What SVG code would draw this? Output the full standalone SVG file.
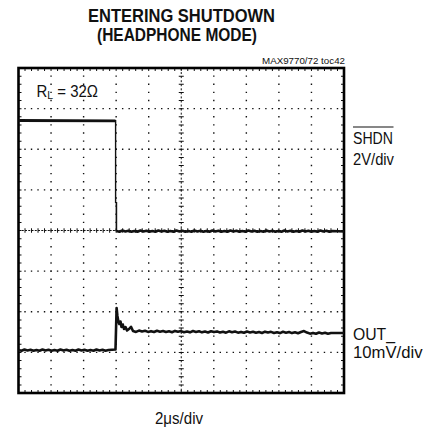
<svg xmlns="http://www.w3.org/2000/svg" width="431" height="434" viewBox="0 0 431 434">
<style>
.t{font-family:"Liberation Sans",Arial,sans-serif;fill:#111}
.title{font-weight:bold;font-size:17.5px}
.lbl{font-size:16px}
.hdot{stroke:#111;stroke-width:1.4;stroke-dasharray:1.4 5.11;stroke-dashoffset:0.7}
.vdot{stroke:#111;stroke-width:1.4;stroke-dasharray:1.4 6.725;stroke-dashoffset:0.7}
.tr{fill:none;stroke:#111;stroke-linejoin:round;stroke-linecap:butt}
</style>
<rect width="431" height="434" fill="#fff"/>
<g id="title">
<text class="t title" x="181.5" y="21.7" text-anchor="middle" textLength="187" lengthAdjust="spacingAndGlyphs">ENTERING SHUTDOWN</text>
<text class="t title" x="177" y="41.4" text-anchor="middle" textLength="160" lengthAdjust="spacingAndGlyphs">(HEADPHONE MODE)</text>
<text class="t" x="345" y="63.5" text-anchor="end" font-size="8.5" textLength="83" lengthAdjust="spacingAndGlyphs">MAX9770/72 toc42</text>
</g>
<g id="grid">
<g class="hdot">
<line x1="18.5" y1="108.6" x2="344" y2="108.6"/>
<line x1="18.5" y1="149.3" x2="344" y2="149.3"/>
<line x1="18.5" y1="189.9" x2="344" y2="189.9"/>
<line x1="18.5" y1="271.1" x2="344" y2="271.1"/>
<line x1="18.5" y1="311.8" x2="344" y2="311.8"/>
<line x1="18.5" y1="352.4" x2="344" y2="352.4"/>
</g>
<g class="vdot">
<line x1="51.05" y1="68" x2="51.05" y2="393"/>
<line x1="83.6" y1="68" x2="83.6" y2="393"/>
<line x1="116.15" y1="68" x2="116.15" y2="393"/>
<line x1="148.7" y1="68" x2="148.7" y2="393"/>
<line x1="213.8" y1="68" x2="213.8" y2="393"/>
<line x1="246.35" y1="68" x2="246.35" y2="393"/>
<line x1="278.9" y1="68" x2="278.9" y2="393"/>
<line x1="311.45" y1="68" x2="311.45" y2="393"/>
</g>
<line x1="18.5" y1="230.5" x2="344" y2="230.5" stroke="#111" stroke-width="1" stroke-dasharray="2 1.255"/>
<line x1="18.5" y1="230.5" x2="344" y2="230.5" stroke="#111" stroke-width="4.5" stroke-dasharray="1 5.51" stroke-dashoffset="0.5"/>
<line x1="181.25" y1="68" x2="181.25" y2="393" stroke="#111" stroke-width="1" stroke-dasharray="2 2.06"/>
<line x1="181.25" y1="68" x2="181.25" y2="393" stroke="#111" stroke-width="5" stroke-dasharray="1 7.125" stroke-dashoffset="0.5"/>
<line x1="18.5" y1="69.5" x2="344" y2="69.5" stroke="#111" stroke-width="3" stroke-dasharray="1 5.51" stroke-dashoffset="0.5"/>
<line x1="18.5" y1="391.5" x2="344" y2="391.5" stroke="#111" stroke-width="3" stroke-dasharray="1 5.51" stroke-dashoffset="0.5"/>
<line x1="20" y1="68" x2="20" y2="393" stroke="#111" stroke-width="3" stroke-dasharray="1 7.125" stroke-dashoffset="0.5"/>
<line x1="342.5" y1="68" x2="342.5" y2="393" stroke="#111" stroke-width="3" stroke-dasharray="1 7.125" stroke-dashoffset="0.5"/>
<rect x="18.5" y="68" width="325.5" height="325" fill="none" stroke="#000" stroke-width="2.6"/>
</g>
<g id="traces">
<path class="tr" stroke-width="2.8" d="M18.5,120.5 L115.5,120.8"/>
<path class="tr" stroke-width="1.4" stroke="#333" d="M115.6,120 L115.6,203"/>
<path class="tr" stroke-width="1.6" d="M116.4,202 L116.4,231"/>
<path class="tr" stroke-width="2.6" d="M116.4,231 l3,0.8 l3,-1.3 l3,0.9 l3,-0.7 l3,1.1 l3,-0.8 l3,0.8 l3,-1.3 l3,0.9 l3,-0.7 l3,1.1 l3,-0.8 l3,0.8 l3,-1.3 l3,0.9 l3,-0.7 l3,1.1 l3,-0.8 l3,0.8 l3,-1.3 l3,0.9 l3,-0.7 l3,1.1 l3,-0.8 l3,0.8 l3,-1.3 l3,0.9 l3,-0.7 l3,1.1 l3,-0.8 l3,0.8 l3,-1.3 l3,0.9 l3,-0.7 l3,1.1 l3,-0.8 l3,0.8 l3,-1.3 l3,0.9 l3,-0.7 l3,1.1 l3,-0.8 l3,0.8 l3,-1.3 l3,0.9 l3,-0.7 l3,1.1 l3,-0.8 l3,0.8 l3,-1.3 l3,0.9 l3,-0.7 l3,1.1 l3,-0.8 l3,0.8 l3,-1.3 l3,0.9 l3,-0.7 l3,1.1 l3,-0.8 l3,0.8 l3,-1.3 l3,0.9 l3,-0.7 l3,1.1 l3,-0.8 l3,0.8 l3,-1.3 l3,0.9 l3,-0.7 l3,1.1 l3,-0.8 L344,231.5"/>
<path class="tr" stroke-width="2.6" d="M18.5,350 l3,0.8 l3,-1.3 l3,0.9 l3,-0.7 l3,1.1 l3,-0.8 l3,0.8 l3,-1.3 l3,0.9 l3,-0.7 l3,1.1 l3,-0.8 l3,0.8 l3,-1.3 l3,0.9 l3,-0.7 l3,1.1 l3,-0.8 l3,0.8 l3,-1.3 l3,0.9 l3,-0.7 l3,1.1 l3,-0.8 l3,0.8 l3,-1.3 l3,0.9 l3,-0.7 l3,1.1 l3,-0.8 L115.5,349.5 L116.6,308 L117.4,316 L118.3,321 L119.3,324 L120.5,321.5 L121.5,327 L122.8,324.5 L124,329 L125.5,327 L127,330.5 L129,329 L131,326.8 L133,331 l3,0.9 l3,-1.3 l3,0.9 l3,-0.7 l3,1.1 l3,-0.75 l3,0.9 l3,-1.3 l3,0.9 l3,-0.7 l3,1.1 l3,-0.75 l3,0.9 l3,-1.3 l3,0.9 l3,-0.7 l3,1.1 l3,-0.75 l3,0.9 l3,-1.3 l3,0.9 l3,-0.7 l3,1.1 l3,-0.75 l3,0.9 l3,-1.3 l3,0.9 l3,-0.7 l3,1.1 l3,-0.75 l3,0.9 l3,-1.3 l3,0.9 l3,-0.7 l3,1.1 l3,-0.75 l3,0.9 l3,-1.3 l3,0.9 l3,-0.7 l3,1.1 l3,-0.75 l3,0.9 l3,-1.3 l3,0.9 l3,-0.7 l3,1.1 l3,-0.75 l3,0.9 l3,-1.3 l3,0.9 l3,-0.7 l3,1.1 l3,-0.75 l3,0.9 l3,-1.3 l3,-0.9 l3,1.5 l3,1.1 l3,-0.75 l3,0.9 l3,-1.3 l3,0.9 l3,-0.7 l3,1.1 l3,-0.75 L344,333"/>
</g>
<g id="labels">
<text class="t" x="36.5" y="96.7" font-size="16.5" textLength="61.5" lengthAdjust="spacingAndGlyphs">R<tspan font-size="11.5" dy="1.9">L</tspan><tspan dy="-1.9"> = 32Ω</tspan></text>
<line x1="353" y1="127" x2="393.5" y2="127" stroke="#111" stroke-width="1.2"/>
<text class="t lbl" x="353" y="144" textLength="40" lengthAdjust="spacingAndGlyphs">SHDN</text>
<text class="t lbl" x="353" y="165" textLength="41" lengthAdjust="spacingAndGlyphs">2V/div</text>
<text class="t lbl" x="353" y="340" textLength="42" lengthAdjust="spacingAndGlyphs">OUT_</text>
<text class="t lbl" x="353" y="358" textLength="69.5" lengthAdjust="spacingAndGlyphs">10mV/div</text>
<text class="t lbl" x="155" y="423.5" textLength="48" lengthAdjust="spacingAndGlyphs">2μs/div</text>
</g>
</svg>
